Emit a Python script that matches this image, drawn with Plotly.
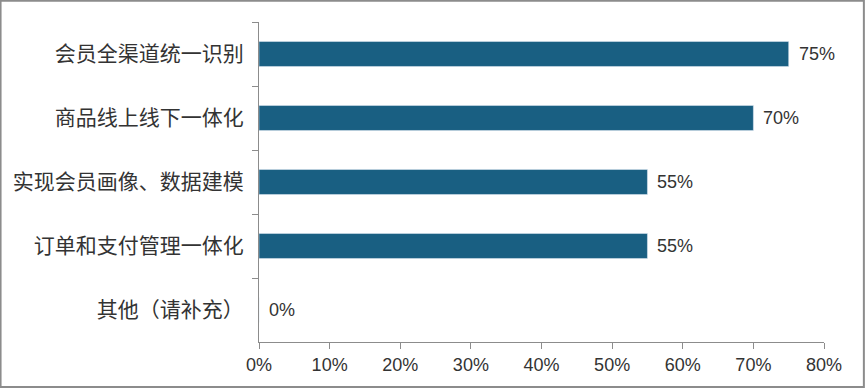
import plotly.graph_objects as go

categories = ["会员全渠道统一识别", "商品线上线下一体化", "实现会员画像、数据建模", "订单和支付管理一体化", "其他（请补充）"]
values = [75, 70, 55, 55, 0]
x_ticks = [0, 10, 20, 30, 40, 50, 60, 70, 80]
x_tick_labels = [f"{v}%" for v in x_ticks]

W, H = 865, 388
L, R, T, B = 259, 41, 22, 46
NUM_FONT = "Liberation Sans Narrow, Liberation Sans, sans-serif"

fig = go.Figure(go.Bar(
    y=categories, x=values, orientation="h",
    marker=dict(color="#195f82"),
    width=0.39,
))

annotations = [dict(x=v, y=c, xref="x", yref="y", text=f"{v}%", showarrow=False,
                    xanchor="left", yanchor="middle", xshift=8,
                    font=dict(size=18, color="#333333", family=NUM_FONT))
               for c, v in zip(categories, values)]

fig.update_layout(
    width=W, height=H,
    margin=dict(l=L, r=R, t=T, b=B, pad=0),
    paper_bgcolor="white", plot_bgcolor="white",
    showlegend=False,
    annotations=annotations,
    font=dict(family="Noto Sans CJK SC, sans-serif", size=16, color="#333333"),
    xaxis=dict(range=[0, 80], tickvals=x_ticks, ticktext=x_tick_labels,
               showgrid=False, zeroline=False, showline=True, linecolor="#8c8c8c", linewidth=1,
               ticks="outside", ticklen=6, tickcolor="#8c8c8c",
               tickfont=dict(family=NUM_FONT, size=18, color="#333333")),
    yaxis=dict(autorange="reversed", showgrid=False, showline=True, linecolor="#8c8c8c", linewidth=1,
               ticks="outside", ticklen=6, tickcolor="#8c8c8c", tickson="boundaries",
               ticklabelstandoff=10,
               tickfont=dict(family="Noto Sans CJK SC, sans-serif", size=21, color="#333333")),
    shapes=[dict(type="rect", xref="paper", yref="paper",
                 x0=-L / (W - L - R) + 0.001, x1=1 + R / (W - L - R) - 0.002,
                 y0=-B / (H - T - B) + 0.003, y1=1 + T / (H - T - B) - 0.002,
                 line=dict(color="#8c8c8c", width=2))],
)

fig.write_html("out.html", config={"displayModeBar": False},
               post_script="document.body.style.margin='0';")
